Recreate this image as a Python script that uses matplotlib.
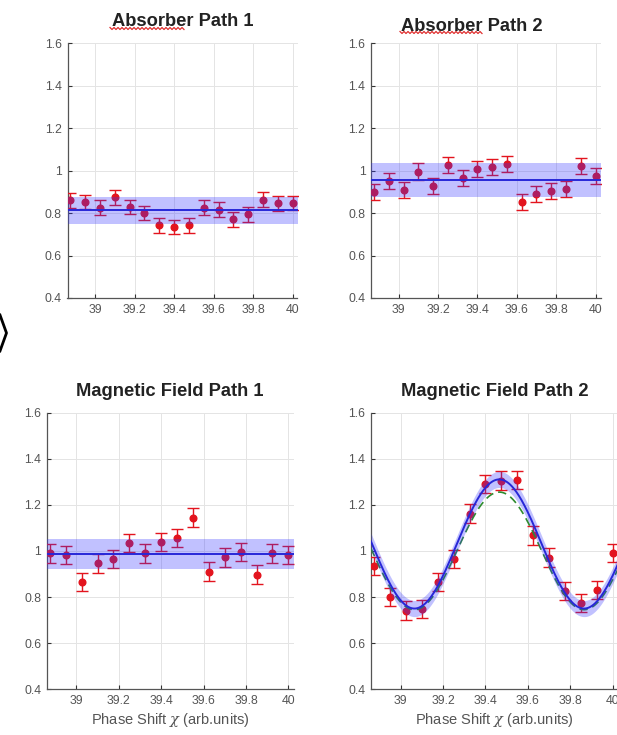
import numpy as np
import matplotlib.pyplot as plt
from matplotlib.lines import Line2D

plt.rcParams['font.family'] = ['Liberation Sans', 'DejaVu Sans']
plt.rcParams['mathtext.fontset'] = 'dejavuserif'

# Phase shift settings (arb. units)
phase = [38.875, 38.95, 39.025, 39.1, 39.175, 39.25, 39.325, 39.4,
         39.475, 39.55, 39.625, 39.7, 39.775, 39.85, 39.925, 40.0]

# Normalised counts per path
abs_path1 = [0.860, 0.852, 0.824, 0.875, 0.828, 0.800, 0.742, 0.734,
             0.742, 0.824, 0.816, 0.770, 0.794, 0.862, 0.845, 0.847]
abs_path2 = [0.899, 0.949, 0.907, 0.995, 0.929, 1.026, 0.965, 1.009,
             1.016, 1.032, 0.853, 0.891, 0.904, 0.913, 1.021, 0.973]
mag_path1 = [0.989, 0.982, 0.865, 0.946, 0.965, 1.034, 0.989, 1.038,
             1.056, 1.144, 0.910, 0.972, 0.996, 0.897, 0.989, 0.983]
mag_path2 = [0.935, 0.800, 0.741, 0.747, 0.866, 0.965, 1.162, 1.291,
             1.305, 1.308, 1.067, 0.971, 0.825, 0.773, 0.831, 0.990]

# statistical error on every point
errs = [0.035, 0.038, 0.040, 0.040]

# constant fits (level, half width of confidence band)
flat_fit = [(0.813, 0.064), (0.957, 0.080), (0.986, 0.066)]

# sinusoidal fit for magnetic field path 2 (offset, amplitude, period, minimum position, band)
sine_fit = (1.030, 0.280, 0.800, 39.065, 0.035)
# expected curve
sine_expected = (1.000, 0.255, 0.800, 39.065)

titles = ['Absorber Path 1', 'Absorber Path 2',
          'Magnetic Field Path 1', 'Magnetic Field Path 2']
xticks = [39, 39.2, 39.4, 39.6, 39.8, 40]
yticks = [0.4, 0.6, 0.8, 1.0, 1.2, 1.4, 1.6]

W, H = 617, 735
fig = plt.figure(figsize=(W / 100, H / 100), dpi=100)


def px_axes(left, right, top, bottom):
    return fig.add_axes([left / W, 1 - bottom / H, (right - left) / W, (bottom - top) / H])


boxes = [(67.5, 297.5, 43, 298), (371, 600.5, 43, 298),
         (46.7, 293.7, 412.5, 689.3), (371, 618, 412.5, 689.3)]
# title placement (x in axes fraction, pad in points)
title_pos = [(0.5, 12), (0.44, 9), (0.5, 12), (0.5, 12)]
series = [abs_path1, abs_path2, mag_path1, mag_path2]

red = '#e3141e'
blue = '#2323c8'
band = (0.2, 0.2, 1.0, 0.3)

axes = []
for k, (box, y) in enumerate(zip(boxes, series)):
    ax = px_axes(*box)
    axes.append(ax)
    ax.errorbar(phase, y, yerr=errs[k], fmt='o', color=red, ms=4.8, capsize=4,
                elinewidth=1.0, capthick=1.0, zorder=3)
    if k < 3:
        lvl, half = flat_fit[k]
        ax.axhline(lvl, color=blue, lw=1.4, zorder=4)
        ax.axhspan(lvl - half, lvl + half, color=band, lw=0, zorder=5)
    else:
        off, amp, per, xmin, half = sine_fit
        xs = np.linspace(38.86, 40.03, 400)
        fit = off - amp * np.cos(2 * np.pi * (xs - xmin) / per)
        e_off, e_amp, e_per, e_min = sine_expected
        expd = e_off - e_amp * np.cos(2 * np.pi * (xs - e_min) / e_per)
        ax.plot(xs, expd, color='#2e8b2e', lw=1.2, ls=(0, (5, 3)), zorder=4)
        ax.plot(xs, fit, color=blue, lw=1.4, zorder=4)
        ax.fill_between(xs, fit - half, fit + half, color=band, lw=0, zorder=5)

    ax.set_xlim(38.86, 40.025)
    ax.set_ylim(0.4, 1.6)
    ax.set_xticks(xticks)
    ax.set_yticks(yticks)
    ax.set_xticklabels(['%g' % t for t in xticks])
    ax.set_yticklabels(['%g' % t for t in yticks])
    ax.grid(True, color='#e4e4e4', lw=0.7)
    ax.set_axisbelow(True)
    for s in ('top', 'right'):
        ax.spines[s].set_visible(False)
    for s in ('left', 'bottom'):
        ax.spines[s].set_color('#555555')
        ax.spines[s].set_linewidth(0.9)
    ax.tick_params(direction='in', length=3, width=0.8, color='#333333',
                   labelsize=8.8, labelcolor='#555555', pad=4)
    tx, tpad = title_pos[k]
    ax.set_title(titles[k], fontsize=13.2, fontweight='bold', color='#222222',
                 x=tx, pad=tpad)
    if k >= 2:
        ax.set_xlabel(r'Phase Shift $\chi$ (arb.units)', fontsize=10.5,
                      color='#555555', labelpad=3)

# spell-check squiggle under "Absorber"
for x0, x1, yy in [(110, 185, 28.5), (400, 483, 32.5)]:
    zx = np.arange(x0, x1 + 1, 2.0)
    zy = yy + np.tile([-1.0, 1.0], len(zx))[:len(zx)]
    fig.add_artist(Line2D(zx / W, 1 - zy / H, color='#e03030', lw=0.9))

# slide navigation chevron on the left edge
fig.add_artist(Line2D(np.array([0, 6.5, 0]) / W, 1 - np.array([315, 333, 351]) / H,
                      color='black', lw=2.0))

fig.savefig('out.png', dpi=100)
